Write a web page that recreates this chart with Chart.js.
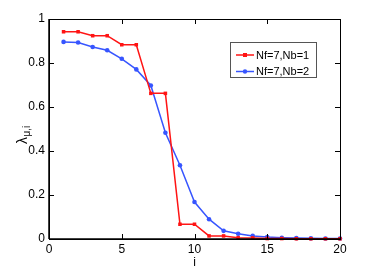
<!DOCTYPE html>
<html><head><meta charset="utf-8">
<script src="https://cdn.jsdelivr.net/npm/chart.js@4/dist/chart.umd.min.js"></script>
<style>html,body{margin:0;padding:0;background:#fff}#wrap{width:374px;height:269px}</style>
</head><body><div id="wrap"><canvas id="c" width="374" height="269"></canvas></div>
<script>
const indices = [1,2,3,4,5,6,7,8,9,10,11,12,13,14,15,16,17,18,19,20];
const seriesNames = ['Nf=7,Nb=1', 'Nf=7,Nb=2'];
const valuesNb1 = [0.942,0.942,0.924,0.924,0.883,0.883,0.662,0.662,0.067,0.067,0.014,0.014,0.006,0.005,0.002,0.002,0.001,0.001,0.001,0.001];
const valuesNb2 = [0.896,0.893,0.873,0.858,0.819,0.771,0.698,0.483,0.335,0.168,0.090,0.037,0.024,0.014,0.009,0.006,0.004,0.003,0.002,0.002];
const xTicks = [0,5,10,15,20];
const yTicks = [0,0.2,0.4,0.6,0.8,1];
const xTitle = 'i';
const yTitleMain = 'λ';
const yTitleSub = 'μ,i';

const RED = 'rgb(255,20,20)';
const BLUE = 'rgb(55,85,255)';
const FONT = '"Liberation Sans", Arial, sans-serif';

const frame = {
  id: 'frame',
  afterDatasetsDraw(chart) {
    const ctx = chart.ctx, a = chart.chartArea;
    const xs = chart.scales.x, ys = chart.scales.y;
    ctx.save();
    ctx.strokeStyle = '#000'; ctx.lineWidth = 1;
    ctx.strokeRect(Math.round(a.left)+0.5, Math.round(a.top)+0.5, Math.round(a.right-a.left), Math.round(a.bottom-a.top));
    const tl = 5;
    ctx.beginPath();
    xTicks.forEach(v => {
      const px = Math.round(xs.getPixelForValue(v)) + 0.5;
      ctx.moveTo(px, a.bottom); ctx.lineTo(px, a.bottom - tl);
      ctx.moveTo(px, a.top); ctx.lineTo(px, a.top + tl);
    });
    yTicks.forEach(v => {
      const py = Math.round(ys.getPixelForValue(v)) + 0.5;
      ctx.moveTo(a.left, py); ctx.lineTo(a.left + tl, py);
      ctx.moveTo(a.right, py); ctx.lineTo(a.right - tl, py);
    });
    ctx.stroke();
    // bottom axis slightly heavier
    ctx.lineWidth = 1.5;
    ctx.beginPath(); ctx.moveTo(a.left, a.bottom); ctx.lineTo(a.right, a.bottom); ctx.stroke();
    ctx.beginPath(); ctx.moveTo(a.left, a.top); ctx.lineTo(a.left, a.bottom); ctx.stroke();

    // legend
    const lx = 230.5, ly = 42.5, lw = 86, lh = 35;
    ctx.lineWidth = 1;
    ctx.fillStyle = '#fff'; ctx.fillRect(lx, ly, lw, lh);
    ctx.strokeStyle = '#555'; ctx.strokeRect(lx, ly, lw, lh);
    chart.data.datasets.forEach((ds, i) => {
      const cy = 55 + i * 16.5;
      ctx.strokeStyle = ds.borderColor; ctx.lineWidth = 1.5;
      ctx.beginPath(); ctx.moveTo(236, cy); ctx.lineTo(254, cy); ctx.stroke();
      ctx.fillStyle = ds.borderColor;
      if (ds.pointStyle === 'rect') { ctx.fillRect(243, cy - 2, 4, 4); }
      else { ctx.beginPath(); ctx.arc(245, cy, 2.2, 0, Math.PI*2); ctx.fill(); }
      ctx.fillStyle = '#000'; ctx.font = '11px ' + FONT;
      ctx.textAlign = 'left'; ctx.textBaseline = 'middle';
      ctx.fillText(ds.label, 256, cy + 0.5);
    });

    // axis titles
    ctx.fillStyle = '#000';
    ctx.font = '12px ' + FONT; ctx.textAlign = 'center'; ctx.textBaseline = 'alphabetic';
    ctx.fillText(xTitle, (a.left + a.right) / 2, 266);
    ctx.save();
    ctx.translate(27, 144); ctx.rotate(-Math.PI / 2);
    ctx.textAlign = 'left';
    ctx.font = '14px ' + FONT;
    ctx.fillText(yTitleMain, 0, 0);
    const w = ctx.measureText(yTitleMain).width;
    ctx.font = '10px ' + FONT;
    ctx.fillText(yTitleSub, w + 0.5, 3);
    ctx.restore();
    ctx.restore();
  }
};

new Chart(document.getElementById('c'), {
  type: 'line',
  data: {
    datasets: [
      { label: seriesNames[0], data: indices.map((x, k) => ({x, y: valuesNb1[k]})),
        borderColor: RED, backgroundColor: RED, borderWidth: 1.5,
        pointStyle: 'rect', pointRadius: 2.5, pointBorderWidth: 0, tension: 0, clip: false },
      { label: seriesNames[1], data: indices.map((x, k) => ({x, y: valuesNb2[k]})),
        borderColor: BLUE, backgroundColor: BLUE, borderWidth: 1.5,
        pointStyle: 'circle', pointRadius: 2.3, pointBorderWidth: 0, tension: 0, clip: false }
    ]
  },
  options: {
    responsive: false, animation: false, devicePixelRatio: 1,
    layout: { padding: { left: 0, right: 34, top: 19, bottom: 0 } },
    plugins: { legend: { display: false }, tooltip: { enabled: false } },
    scales: {
      x: { type: 'linear', min: 0, max: 20,
        afterBuildTicks: s => { s.ticks = xTicks.map(v => ({value: v})); },
        afterFit: s => { s.height = 30; },
        grid: { display: false, drawTicks: false }, border: { display: false },
        ticks: { color: '#000', font: { family: FONT, size: 12 }, padding: 3, maxRotation: 0, autoSkip: false } },
      y: { min: 0, max: 1,
        afterBuildTicks: s => { s.ticks = yTicks.map(v => ({value: v})); },
        afterFit: s => { s.width = 49; },
        grid: { display: false, drawTicks: false }, border: { display: false },
        ticks: { color: '#000', font: { family: FONT, size: 12 }, padding: 4,
          callback: v => String(Math.round(v * 10) / 10) } }
    }
  },
  plugins: [frame]
});
</script></body></html>
